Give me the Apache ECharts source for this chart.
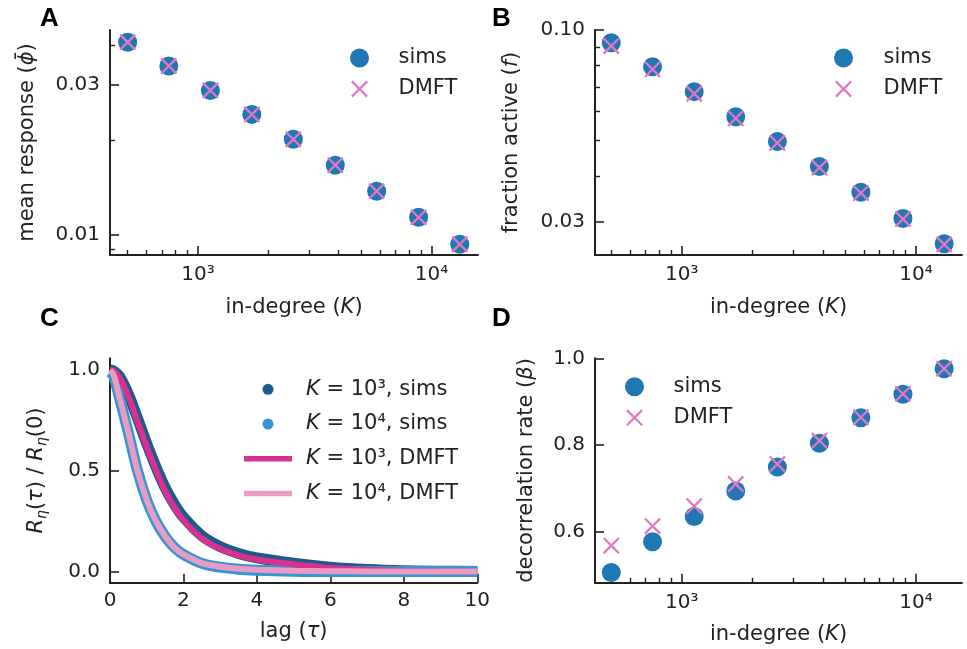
<!DOCTYPE html>
<html><head><meta charset="utf-8">
<script src="https://cdn.jsdelivr.net/npm/echarts@6/dist/echarts.min.js"></script>
<style>html,body{margin:0;padding:0;background:#fff}#c{width:967px;height:649px}</style>
</head><body><div id="c"></div><script>
// ---------------- data ----------------
const inDegree = [500, 750, 1130, 1700, 2560, 3870, 5820, 8800, 13200];
const meanRespSims = [0.0408, 0.0343, 0.0287, 0.0241, 0.0201, 0.01665, 0.01377, 0.01138, 0.00935];
const meanRespDmft = [0.0408, 0.0343, 0.0287, 0.0241, 0.0201, 0.01665, 0.01377, 0.01138, 0.00935];
const fracActiveSims = [0.0923, 0.0794, 0.0679, 0.0580, 0.0496, 0.0424, 0.0361, 0.0306, 0.0261];
const fracActiveDmft = [0.0904, 0.0781, 0.0670, 0.0574, 0.0492, 0.0421, 0.0359, 0.0305, 0.0260];
const decorrSims = [0.506, 0.577, 0.635, 0.694, 0.749, 0.804, 0.863, 0.917, 0.976];
const decorrDmft = [0.568, 0.613, 0.659, 0.710, 0.756, 0.810, 0.864, 0.918, 0.976];

const lag = [0, 0.1, 0.25, 0.5, 0.75, 1, 1.25, 1.5, 1.75, 2, 2.5, 3, 3.5, 4, 5, 6, 7, 8, 9, 10];
const corrK3Sims = [1.0, 0.995, 0.97, 0.88, 0.76, 0.635, 0.52, 0.417, 0.335, 0.27, 0.178, 0.124, 0.09, 0.068, 0.042, 0.022, 0.01, 0.004, 0.002, 0.001];
const corrK4Sims = [0.99, 0.97, 0.868, 0.688, 0.5, 0.355, 0.25, 0.175, 0.12, 0.085, 0.041, 0.022, 0.012, 0.007, 0.002, 0, 0, 0, 0, 0];
const corrK3Dmft = [1.0, 0.995, 0.965, 0.87, 0.745, 0.62, 0.505, 0.40, 0.32, 0.255, 0.165, 0.113, 0.081, 0.06, 0.036, 0.018, 0.008, 0.004, 0.002, 0.001];
const corrK4Dmft = [1.0, 0.975, 0.87, 0.69, 0.5, 0.355, 0.25, 0.175, 0.12, 0.085, 0.042, 0.024, 0.014, 0.009, 0.004, 0.002, 0.001, 0.001, 0.0, 0.0];

const kMajorTicks = [1000, 10000];
const kMajorLabels = ['10³', '10⁴'];
const kMinorTicks = [500, 600, 700, 800, 900, 2000, 3000, 4000, 5000, 6000, 7000, 8000, 9000];
const aYMajorTicks = [0.01, 0.03];
const aYMajorLabels = ['0.01', '0.03'];
const aYMinorTicks = [0.009, 0.02, 0.04];
const bYMajorTicks = [0.03, 0.1];
const bYMajorLabels = ['0.03', '0.10'];
const bYMinorTicks = [0.04, 0.05, 0.06, 0.07, 0.08, 0.09];
const cXTicks = [0, 2, 4, 6, 8, 10];
const cYTicks = [0, 0.5, 1.0];
const dYTicks = [0.6, 0.8, 1.0];

const legC = ['K3sims', 'K4sims', 'K3dmft', 'K4dmft'];
const legCLabels = {
  K3sims: '{sp| }{i|K} = 10³, sims',
  K4sims: '{sp| }{i|K} = 10⁴, sims',
  K3dmft: '{sp| }{i|K} = 10³, DMFT',
  K4dmft: '{sp| }{i|K} = 10⁴, DMFT'
};

// ---------------- style ----------------
const BLUE = '#1f77b4', PINK = '#e377c2';
const C3S = '#1d5b8c', C4S = '#3795d3', C3D = '#d8318f', C4D = '#e99bc2';
const INK = '#222';
const FF = 'DejaVu Sans';
const XPATH = 'path://M0,0L0.01,0L0.01,0.01Z M20,20L19.99,20L19.99,19.99Z M2.85,1.15L10,8.3L17.15,1.15L18.85,2.85L11.7,10L18.85,17.15L17.15,18.85L10,11.7L2.85,18.85L1.15,17.15L8.3,10L1.15,2.85Z';
const LINEICON = 'path://M0,0L48,0L48,5.5L0,5.5Z';

const richName = {
  i: {fontStyle: 'italic', fontSize: 21, fontFamily: FF, color: INK, lineHeight: 24},
  s: {fontStyle: 'italic', fontSize: 14, fontFamily: FF, color: INK, lineHeight: 12, verticalAlign: 'bottom'}
};
function nameStyle() {
  return {fontSize: 21, fontFamily: FF, color: INK, lineHeight: 24, rich: richName};
}
function nameCfg(name, gap, rot) {
  return {name: name, nameLocation: 'middle', nameGap: gap, nameRotate: rot || 0, nameTextStyle: nameStyle()};
}

const xAxis = [], yAxis = [];

function addLogAxis(list, isX, grid, range, major, majorLabels, minor, nc, margin) {
  const idx = list.length;
  const pos = isX ? 'bottom' : 'left';
  list.push(Object.assign({
    type: 'log', logBase: 10, gridIndex: grid, position: pos, min: range[0], max: range[1],
    axisLine: {show: true, onZero: false, lineStyle: {color: INK, width: 2}},
    axisTick: {show: false}, axisLabel: {show: false}, splitLine: {show: false},
    minorTick: {show: false}, minorSplitLine: {show: false}
  }, nc));
  const lo = Math.log10(range[0]), hi = Math.log10(range[1]);
  const majorPos = major.map(v => Math.log10(v));
  list.push({
    type: 'value', gridIndex: grid, position: pos, min: lo, max: hi,
    axisLine: {show: false, onZero: false}, splitLine: {show: false},
    axisTick: {show: true, inside: true, length: 9, customValues: majorPos, lineStyle: {color: INK, width: 1.6}},
    axisLabel: {show: true, customValues: majorPos, margin: margin, color: INK, fontSize: 20, fontFamily: FF,
      formatter: function (v) { const i = majorPos.findIndex(p => Math.abs(p - v) < 1e-9); return i >= 0 ? majorLabels[i] : ''; }}
  });
  const minorPos = minor.map(v => Math.log10(v));
  list.push({
    type: 'value', gridIndex: grid, position: pos, min: lo, max: hi,
    axisLine: {show: false, onZero: false}, splitLine: {show: false},
    axisTick: {show: true, inside: true, length: 5, customValues: minorPos, lineStyle: {color: INK, width: 1.4}},
    axisLabel: {show: false}
  });
  return idx;
}

function addValueAxis(list, isX, grid, range, ticks, fmt, nc, margin, interval) {
  const idx = list.length;
  const ax = Object.assign({
    type: 'value', gridIndex: grid, position: isX ? 'bottom' : 'left', min: range[0], max: range[1],
    axisLine: {show: true, onZero: false, lineStyle: {color: INK, width: 2}},
    splitLine: {show: false},
    axisTick: {show: true, inside: true, length: 9, lineStyle: {color: INK, width: 1.6}},
    axisLabel: {show: true, margin: margin, color: INK, fontSize: 20, fontFamily: FF, formatter: fmt}
  }, nc);
  if (interval) { ax.interval = interval; }
  else { ax.axisTick.customValues = ticks; ax.axisLabel.customValues = ticks; }
  list.push(ax);
  return idx;
}

// ---- grids ----
const grid = [
  {left: 110, top: 30, width: 368, height: 225},
  {left: 595, top: 30, width: 367, height: 225},
  {left: 110, top: 358.3, width: 367.3, height: 224.4},
  {left: 595, top: 358.3, width: 367, height: 224.4}
];
grid.forEach(g => { g.containLabel = false; g.outerBoundsMode = 'none'; });

// Panel A
const axA = addLogAxis(xAxis, true, 0, [420, 15800], kMajorTicks, kMajorLabels, kMinorTicks, nameCfg('in-degree ({i|K})', 41), 10);
const ayA = addLogAxis(yAxis, false, 0, [0.008647, 0.04459], aYMajorTicks, aYMajorLabels, aYMinorTicks, nameCfg('mean response ({i|ϕ̄})', 70, 90), 10);
// Panel B
const axB = addLogAxis(xAxis, true, 1, [426, 15730], kMajorTicks, kMajorLabels, kMinorTicks, nameCfg('in-degree ({i|K})', 41), 10);
const ayB = addLogAxis(yAxis, false, 1, [0.02433, 0.1], bYMajorTicks, bYMajorLabels, bYMinorTicks, nameCfg('fraction active ({i|f})', 71, 90), 10);
// Panel C
const axC = addValueAxis(xAxis, true, 2, [0, 10], cXTicks, v => String(v), nameCfg('lag ({i|τ})', 37), 8, 2);
const ayC = addValueAxis(yAxis, false, 2, [-0.055, 1.058], cYTicks, v => v.toFixed(1), nameCfg('{i|R}{s|η}({i|τ}) / {i|R}{s|η}(0)', 61, 90), 10);
// Panel D
const axD = addLogAxis(xAxis, true, 3, [426, 15730], kMajorTicks, kMajorLabels, kMinorTicks, nameCfg('in-degree ({i|K})', 40), 10);
const ayD = addValueAxis(yAxis, false, 3, [0.4824, 1.0], dYTicks, v => v.toFixed(1), nameCfg('decorrelation rate ({i|β})', 56, 90), 10);

function pts(xs, ys) { return xs.map((x, i) => [x, ys[i]]); }
function simsSeries(xi, yi, ys) {
  return {type: 'scatter', name: 'sims', xAxisIndex: xi, yAxisIndex: yi, data: pts(inDegree, ys),
    symbol: 'circle', symbolSize: 19, itemStyle: {color: BLUE, opacity: 1}, z: 2, silent: true};
}
function dmftSeries(xi, yi, ys) {
  return {type: 'scatter', name: 'DMFT', xAxisIndex: xi, yAxisIndex: yi, data: pts(inDegree, ys),
    symbol: XPATH, symbolSize: 19, symbolKeepAspect: true, itemStyle: {color: PINK, opacity: 1}, z: 3, silent: true};
}
function corrSeries(name, ys, color, width, z) {
  return {type: 'line', name: name, xAxisIndex: axC, yAxisIndex: ayC, data: pts(lag, ys),
    smooth: 0.3, symbol: 'none', showSymbol: false, color: color,
    lineStyle: {color: color, width: width}, itemStyle: {color: color}, z: z, silent: true};
}

const series = [
  simsSeries(axA, ayA, meanRespSims), dmftSeries(axA, ayA, meanRespDmft),
  simsSeries(axB, ayB, fracActiveSims), dmftSeries(axB, ayB, fracActiveDmft),
  simsSeries(axD, ayD, decorrSims), dmftSeries(axD, ayD, decorrDmft),
  corrSeries('K3sims', corrK3Sims, C3S, 11, 2),
  corrSeries('K4sims', corrK4Sims, C4S, 11, 3),
  corrSeries('K3dmft', corrK3Dmft, C3D, 6, 4),
  corrSeries('K4dmft', corrK4Dmft, C4D, 6, 5)
];

function simpleLegend(left, top, w) {
  return {left: left, top: top, orient: 'vertical', padding: 0, itemWidth: w, itemHeight: 19, itemGap: 7,
    selectedMode: false, data: ['sims', 'DMFT'],
    textStyle: {fontSize: 21, lineHeight: 24, fontFamily: FF, color: INK}};
}

const legend = [
  simpleLegend(350, 46, 68),
  simpleLegend(834, 46, 70),
  simpleLegend(625, 374.7, 68),
  {left: 244, top: 376.3, orient: 'vertical', padding: 0, itemWidth: 48, itemHeight: 11, itemGap: 8.7,
    selectedMode: false,
    data: [{name: legC[0], icon: 'circle'}, {name: legC[1], icon: 'circle'},
           {name: legC[2], icon: LINEICON}, {name: legC[3], icon: LINEICON}],
    formatter: n => legCLabels[n],
    textStyle: {fontSize: 21, lineHeight: 26, fontFamily: FF, color: INK,
      rich: {sp: {width: 9, fontSize: 21, lineHeight: 26}, i: {fontStyle: 'italic', fontSize: 21, fontFamily: FF, color: INK, lineHeight: 26}}}}
];

const letterFont = 'bold 26px "Liberation Sans", Arial, sans-serif';
const graphic = [
  {type: 'text', x: 40, y: 19, style: {text: 'A', font: letterFont, fill: '#000', verticalAlign: 'middle'}},
  {type: 'text', x: 492, y: 19, style: {text: 'B', font: letterFont, fill: '#000', verticalAlign: 'middle'}},
  {type: 'text', x: 40, y: 319, style: {text: 'C', font: letterFont, fill: '#000', verticalAlign: 'middle'}},
  {type: 'text', x: 492, y: 319, style: {text: 'D', font: letterFont, fill: '#000', verticalAlign: 'middle'}}
];

const chart = echarts.init(document.getElementById('c'), null, {renderer: 'canvas'});
chart.setOption({
  animation: false,
  backgroundColor: '#fff',
  grid: grid, xAxis: xAxis, yAxis: yAxis, series: series, legend: legend, graphic: graphic
});
</script></body></html>
